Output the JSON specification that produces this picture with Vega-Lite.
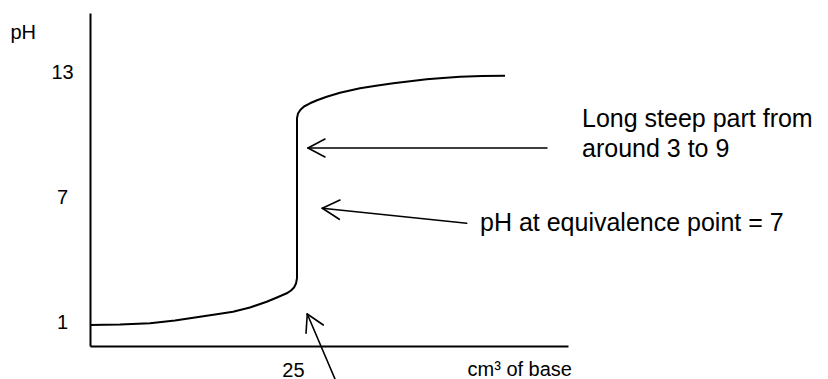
{
  "$schema": "https://vega.github.io/schema/vega-lite/v6.json",
  "width": 478,
  "height": 333,
  "autosize": {"type": "none"},
  "padding": {"left": 90, "top": 13, "right": 260, "bottom": 33},
  "background": "white",
  "config": {
    "view": {"stroke": null},
    "font": "Liberation Sans",
    "axis": {
      "grid": false,
      "ticks": false,
      "domainColor": "black",
      "domainWidth": 2,
      "labelColor": "black",
      "labelFont": "Liberation Sans",
      "labelFontSize": 20,
      "titleColor": "black",
      "titleFont": "Liberation Sans",
      "titleFontWeight": "normal"
    }
  },
  "layer": [
    {
      "data": {"values": [
        {"i": 1, "x": 0, "y": 0.856},
        {"i": 2, "x": 3.62, "y": 0.88},
        {"i": 3, "x": 7.25, "y": 0.938},
        {"i": 4, "x": 10.27, "y": 1.072},
        {"i": 5, "x": 13.28, "y": 1.254},
        {"i": 6, "x": 15.7, "y": 1.394},
        {"i": 7, "x": 17.27, "y": 1.494},
        {"i": 8, "x": 19.32, "y": 1.696},
        {"i": 9, "x": 21.34, "y": 1.974},
        {"i": 10, "x": 22.58, "y": 2.176},
        {"i": 11, "x": 23.76, "y": 2.378},
        {"i": 12, "x": 24.28, "y": 2.512},
        {"i": 13, "x": 24.64, "y": 2.656},
        {"i": 14, "x": 24.88, "y": 2.848},
        {"i": 15, "x": 25.0, "y": 3.098},
        {"i": 16, "x": 25.0, "y": 10.778},
        {"i": 17, "x": 25.12, "y": 11.008},
        {"i": 18, "x": 25.42, "y": 11.186},
        {"i": 19, "x": 25.85, "y": 11.344},
        {"i": 20, "x": 26.57, "y": 11.498},
        {"i": 21, "x": 27.42, "y": 11.642},
        {"i": 22, "x": 28.59, "y": 11.815},
        {"i": 23, "x": 30.19, "y": 12.002},
        {"i": 24, "x": 32.61, "y": 12.218},
        {"i": 25, "x": 34.54, "y": 12.342},
        {"i": 26, "x": 36.63, "y": 12.458},
        {"i": 27, "x": 38.65, "y": 12.558},
        {"i": 28, "x": 40.66, "y": 12.65},
        {"i": 29, "x": 42.63, "y": 12.717},
        {"i": 30, "x": 44.69, "y": 12.775},
        {"i": 31, "x": 47.34, "y": 12.808},
        {"i": 32, "x": 50.12, "y": 12.823}
      ]},
      "mark": {"type": "line", "color": "black", "strokeWidth": 2, "interpolate": "linear", "strokeJoin": "round", "clip": false},
      "encoding": {
        "order": {"field": "i", "type": "quantitative"},
        "x": {
          "field": "x", "type": "quantitative",
          "scale": {"domain": [0, 57.73], "nice": false, "zero": false},
          "axis": {
            "values": [25],
            "labelPadding": 14,
            "labelOffset": -4,
            "title": "cm³ of base",
            "titleFontSize": 20,
            "titleAlign": "left",
            "titleBaseline": "alphabetic",
            "titleX": 377,
            "titleY": 29
          }
        },
        "y": {
          "field": "y", "type": "quantitative",
          "scale": {"domain": [-0.152, 15.832], "nice": false, "zero": false},
          "axis": {
            "values": [1, 7, 13],
            "labelAlign": "center",
            "labelBaseline": "middle",
            "labelPadding": 28,
            "title": "pH",
            "titleFontSize": 20,
            "titleAngle": 0,
            "titleAlign": "left",
            "titleBaseline": "alphabetic",
            "titleX": -80,
            "titleY": 25
          }
        }
      }
    },
    {
      "data": {"values": [
        {"x": 55.19, "y": 9.352, "x2": 26.33, "y2": 9.352},
        {"x": 26.33, "y": 9.352, "x2": 28.38, "y2": 9.784},
        {"x": 26.33, "y": 9.352, "x2": 28.38, "y2": 8.92},
        {"x": 45.5, "y": 5.738, "x2": 28.06, "y2": 6.458},
        {"x": 28.06, "y": 6.458, "x2": 30.19, "y2": 6.856},
        {"x": 28.06, "y": 6.458, "x2": 30.11, "y2": 5.93},
        {"x": 29.59, "y": -1.736, "x2": 26.24, "y2": 1.384},
        {"x": 26.24, "y": 1.384, "x2": 26.09, "y2": 0.458},
        {"x": 26.24, "y": 1.384, "x2": 28.18, "y2": 0.856}
      ]},
      "mark": {"type": "rule", "color": "black", "strokeWidth": 1.6, "strokeCap": "round", "clip": false},
      "encoding": {
        "x": {"field": "x", "type": "quantitative"},
        "y": {"field": "y", "type": "quantitative"},
        "x2": {"field": "x2"},
        "y2": {"field": "y2"}
      }
    },
    {
      "data": {"values": [
        {"x": 59.42, "y": 10.36, "label": "Long steep part from"},
        {"x": 59.42, "y": 8.92, "label": "around 3 to 9"},
        {"x": 47.1, "y": 5.38, "label": "pH at equivalence point = 7"}
      ]},
      "mark": {"type": "text", "align": "left", "baseline": "alphabetic", "fontSize": 25, "font": "Liberation Sans", "color": "black", "clip": false},
      "encoding": {
        "x": {"field": "x", "type": "quantitative"},
        "y": {"field": "y", "type": "quantitative"},
        "text": {"field": "label"}
      }
    }
  ]
}
